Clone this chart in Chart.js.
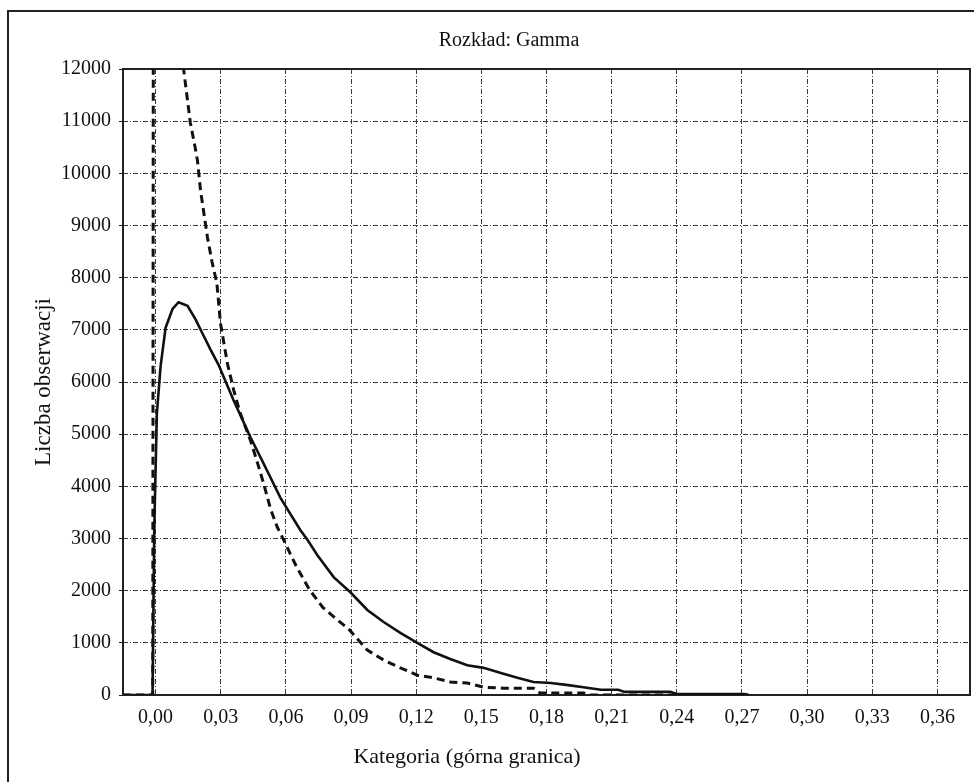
<!DOCTYPE html>
<html>
<head>
<meta charset="utf-8">
<script src="https://cdn.jsdelivr.net/npm/chart.js@4"></script>
<style>
body{margin:0;overflow:hidden;background:#fff;}
#frame{position:absolute;left:7px;top:10px;width:1000px;height:790px;border:2px solid #222;}
</style>
</head>
<body>
<div id="frame"><canvas id="gammaChart" width="1000" height="790"></canvas></div>
<script>
// tick labels of the x axis (upper bound of category)
const xTicks=[0, 0.03, 0.06, 0.09, 0.12, 0.15, 0.18, 0.21, 0.24, 0.27, 0.30, 0.33, 0.36];

// observed counts (solid line)
const obsX=[-0.015, -0.0014, -0.0006, 0.0006, 0.0023, 0.0046, 0.0078, 0.0106, 0.0147, 0.0184,
    0.0216, 0.0253, 0.0290, 0.0359, 0.0437, 0.0497, 0.0529, 0.0575, 0.0667, 0.0700,
    0.0745, 0.0820, 0.0897, 0.0975, 0.1050, 0.1127, 0.1205, 0.1280, 0.1357, 0.1435,
    0.1510, 0.1590, 0.1666, 0.1740, 0.1820, 0.1900, 0.1970, 0.2050, 0.2130, 0.2160,
    0.2370, 0.2400, 0.2710, 0.2730];
const obsY=[0, 0, 3200, 5400, 6300, 7040, 7400, 7530, 7460, 7200,
    6930, 6620, 6330, 5650, 4940, 4440, 4170, 3780, 3160, 2970,
    2680, 2260, 1970, 1630, 1400, 1190, 1000, 820, 690, 570,
    520, 420, 330, 250, 230, 190, 150, 100, 100, 60,
    60, 20, 20, 0];

// expected gamma counts (dashed line)
const gammaX=[-0.015, -0.0013, -0.0005, 0.004, 0.009, 0.0129, 0.0160, 0.0182, 0.0193, 0.0207,
    0.0239, 0.0260, 0.0282, 0.0299, 0.0331, 0.0360, 0.0390, 0.0437, 0.0470, 0.0497,
    0.0530, 0.0560, 0.0590, 0.0650, 0.0710, 0.0770, 0.0837, 0.0888, 0.0975, 0.1050,
    0.1127, 0.1205, 0.1280, 0.1357, 0.1435, 0.1510, 0.1600, 0.1740, 0.1770, 0.1970,
    0.2000, 0.2730];
const gammaY=[0, 0, 40000, 22000, 14500, 12000, 10970, 10500, 10240, 9670,
    8770, 8300, 7900, 7120, 6350, 5840, 5400, 4880, 4440, 4060,
    3560, 3220, 2970, 2450, 2010, 1680, 1440, 1270, 860, 670,
    520, 380, 330, 250, 230, 150, 130, 130, 40, 40,
    0, 0];

function toPoints(xs, ys){
    let pts=[];
    for(let i=0; i<xs.length; i++){
        pts.push({x: xs[i], y: ys[i]});
    }
    return pts;
}

const serif='"Liberation Serif", "Times New Roman", serif';

// frame round the plot area + x axis title (it sits left of the plot centre in the original)
const plotExtras={
    id: 'plotExtras',
    beforeDatasetsDraw(chart){
        const a=chart.chartArea;
        const ctx=chart.ctx;
        ctx.save();
        ctx.strokeStyle='#222';
        ctx.lineWidth=2;
        ctx.strokeRect(a.left, a.top, a.right-a.left, a.bottom-a.top);
        ctx.restore();
    },
    afterDraw(chart){
        const ctx=chart.ctx;
        ctx.save();
        ctx.fillStyle='#111';
        ctx.font='22px '+serif;
        ctx.textAlign='center';
        ctx.textBaseline='middle';
        ctx.fillText('Kategoria (górna granica)', 458, 745);
        ctx.restore();
    }
};

new Chart('gammaChart', {
    type: 'line',
    data: {
        datasets: [
            {
                data: toPoints(obsX, obsY),
                borderColor: '#111',
                borderWidth: 2.6,
                pointRadius: 0,
                fill: false,
                tension: 0
            },
            {
                data: toPoints(gammaX, gammaY),
                borderColor: '#111',
                borderWidth: 3,
                borderDash: [8, 5],
                pointRadius: 0,
                fill: false,
                tension: 0
            }
        ]
    },
    options: {
        responsive: false,
        animation: false,
        layout: {padding: {left: 39, right: 39, top: 0, bottom: 0}},
        plugins: {
            legend: {display: false},
            tooltip: {enabled: false},
            title: {
                display: true,
                text: 'Rozkład: Gamma',
                color: '#111',
                font: {family: serif, size: 20, weight: 'normal'},
                padding: {top: 17, bottom: 16}
            }
        },
        scales: {
            x: {
                type: 'linear',
                min: -0.015,
                max: 0.375,
                afterBuildTicks: (scale) => { scale.ticks = xTicks.map(v => ({value: v})); },
                afterFit: (scale) => { scale.height = 107; },
                grid: {color: '#3a3a3a', lineWidth: 1, drawTicks: false},
                border: {display: false, dash: [5, 2, 1, 2]},
                ticks: {
                    color: '#111',
                    padding: 11,
                    maxRotation: 0,
                    font: {family: serif, size: 20},
                    callback: (v) => v.toFixed(2).replace('.', ',')
                },
                title: {display: false}
            },
            y: {
                min: 0,
                max: 12000,
                afterFit: (scale) => { scale.width = 75; },
                grid: {color: '#3a3a3a', lineWidth: 1, drawTicks: true, tickLength: 4, tickColor: '#222', tickBorderDash: []},
                border: {display: false, dash: [5, 2, 1, 2]},
                ticks: {
                    stepSize: 1000,
                    color: '#111',
                    padding: 8,
                    font: {family: serif, size: 20},
                    callback: (v) => String(v)
                },
                title: {
                    display: true,
                    text: 'Liczba obserwacji',
                    color: '#111',
                    font: {family: serif, size: 23},
                    padding: {top: -18, bottom: 0}
                }
            }
        }
    },
    plugins: [plotExtras]
});
</script>
</body>
</html>
